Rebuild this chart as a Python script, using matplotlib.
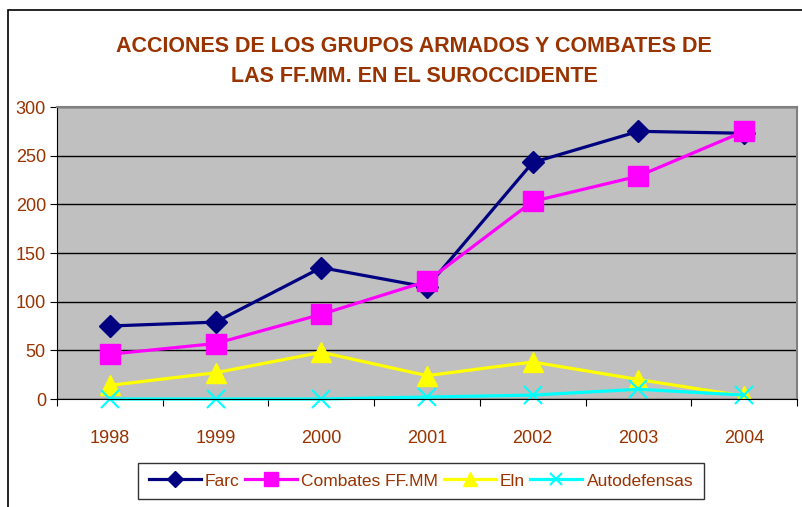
import matplotlib.pyplot as plt
from matplotlib.patches import Rectangle

years = ['1998', '1999', '2000', '2001', '2002', '2003', '2004']
farc = [75, 79, 135, 115, 243, 275, 273]
combates = [46, 57, 87, 121, 203, 229, 275]
eln = [14, 27, 48, 24, 38, 20, 3]
autodefensas = [0, 0, 0, 2, 4, 10, 4]

brown = '#993300'
plt.rcParams['font.family'] = ['Liberation Sans', 'DejaVu Sans']

fig = plt.figure(figsize=(8.03, 5.07), dpi=100)
fig.patches.append(Rectangle((8 / 803, -0.1), 1.0, 1 - 10 / 507 + 0.1, transform=fig.transFigure,
                             fill=False, edgecolor='black', linewidth=1.2))

ax = fig.add_axes([57 / 803, 1 - 399 / 507, (797 - 57) / 803, (399 - 107) / 507])
ax.set_facecolor('#C0C0C0')
x = range(len(years))

ax.plot(x, farc, color='#000080', marker='D', markersize=11, linewidth=2.3, label='Farc')
ax.plot(x, combates, color='#FF00FF', marker='s', markersize=14, linewidth=2.3, label='Combates FF.MM')
ax.plot(x, eln, color='#FFFF00', marker='^', markersize=14, linewidth=2.3, label='Eln')
ax.plot(x, autodefensas, color='#00FFFF', marker='x', markersize=13, markeredgewidth=1.5,
        linewidth=2.3, label='Autodefensas', clip_on=False)

ax.set_xlim(-0.5, 6.5)
ax.set_ylim(0, 300)
ax.set_yticks(range(0, 301, 50))
ax.set_xticks([i - 0.5 for i in range(8)])
ax.set_xticklabels([])
ax.set_xticks(list(x), minor=True)
ax.set_xticklabels(years, minor=True)
ax.tick_params(axis='x', which='minor', length=0, pad=22, labelsize=13, labelcolor=brown)
ax.tick_params(axis='x', which='major', length=5, direction='out')
ax.tick_params(axis='y', length=5, direction='out', labelsize=13, labelcolor=brown, pad=3)
ax.yaxis.grid(True, color='black', linewidth=1)
ax.set_axisbelow(True)
for side in ['top', 'right']:
    ax.spines[side].set_color('#808080')
    ax.spines[side].set_linewidth(1.5)

fig.text(0.516, 0.879, 'ACCIONES DE LOS GRUPOS ARMADOS Y COMBATES DE\nLAS FF.MM. EN EL SUROCCIDENTE',
         ha='center', va='center', color=brown, fontsize=15.5, fontweight='bold', linespacing=1.55)

leg = fig.legend(loc='center', bbox_to_anchor=(421 / 803, 1 - 481 / 507), ncol=4, frameon=True,
                 fancybox=False, edgecolor='black', fontsize=12.5, handlelength=3.0, handletextpad=0.25,
                 columnspacing=0.3, borderpad=0.6, markerscale=0.7)
for t in leg.get_texts():
    t.set_color(brown)

fig.savefig('out.png', dpi=100)
